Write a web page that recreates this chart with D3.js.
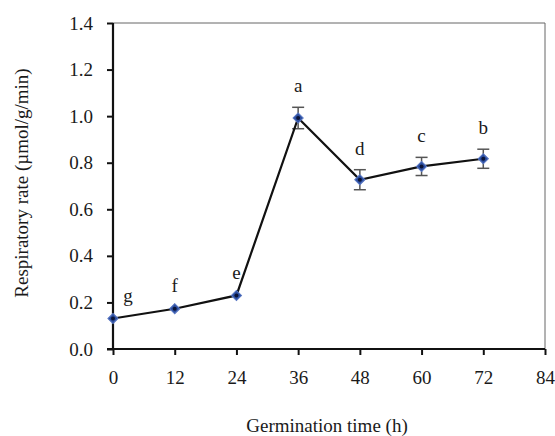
<!DOCTYPE html>
<html>
<head>
<meta charset="utf-8">
<script src="https://cdn.jsdelivr.net/npm/d3@7"></script>
<style>
  body { margin: 0; background: #fff; }
  svg { display: block; }
  .axis text { font-family: "Liberation Serif", "Times New Roman", serif; font-size: 19px; fill: #1a1a1a; }
  .title { font-family: "Liberation Serif", "Times New Roman", serif; font-size: 19px; fill: #1a1a1a; }
</style>
</head>
<body>
<div id="chart"></div>
<script>
// germination time (h), respiratory rate, standard error, significance letter
const hours = [0, 12, 24, 36, 48, 60, 72];
const rates = [0.131, 0.173, 0.230, 0.992, 0.727, 0.784, 0.817];
const errors = [0.008, 0.008, 0.008, 0.046, 0.043, 0.039, 0.041];
const letters = ['g', 'f', 'e', 'a', 'd', 'c', 'b'];
const xTicks = [0, 12, 24, 36, 48, 60, 72, 84];
const yTicks = [0, 0.2, 0.4, 0.6, 0.8, 1.0, 1.2, 1.4];

const width = 555;
const height = 436;
const margin = { top: 23, right: 10, bottom: 87, left: 113 };

const svg = d3.select('#chart')
  .append('svg')
  .attr('width', width)
  .attr('height', height);

const x = d3.scaleLinear()
  .domain([0, 84])
  .range([margin.left, width - margin.right]);

const y = d3.scaleLinear()
  .domain([0, 1.4])
  .range([height - margin.bottom, margin.top]);

const data = hours.map((h, i) => ({ h: h, v: rates[i], e: errors[i], l: letters[i] }));

// thin frame on top and right
svg.append('path')
  .attr('d', `M${x(0)},${y(1.4)}H${x(84)}V${y(0)}`)
  .attr('fill', 'none')
  .attr('stroke', '#666')
  .attr('stroke-width', 1);

// axes
const xAxis = svg.append('g')
  .attr('class', 'axis')
  .attr('transform', `translate(0, ${y(0)})`)
  .call(d3.axisBottom(x).tickValues(xTicks).tickSize(6).tickPadding(16).tickFormat(d3.format('d')));

const yAxis = svg.append('g')
  .attr('class', 'axis')
  .attr('transform', `translate(${x(0)}, 0)`)
  .call(d3.axisLeft(y).tickValues(yTicks).tickSize(6).tickPadding(14).tickFormat(d3.format('.1f')));

[xAxis, yAxis].forEach(g => {
  g.select('.domain').attr('stroke', '#111').attr('stroke-width', 2.2);
  g.selectAll('.tick line').attr('stroke', '#111').attr('stroke-width', 2);
});
yAxis.select('.domain').attr('d', `M0,${y(1.4)}V${y(0)}`);
xAxis.select('.domain').attr('d', `M${x(0) - 6},0H${x(84)}`);

// error bars
const bars = svg.append('g')
  .selectAll('g')
  .data(data.filter(d => d.e > 0.02))
  .enter()
  .append('g')
  .attr('stroke', '#555')
  .attr('stroke-width', 1.5);

bars.append('line')
  .attr('x1', d => x(d.h)).attr('x2', d => x(d.h))
  .attr('y1', d => y(d.v - d.e)).attr('y2', d => y(d.v + d.e));
bars.append('line')
  .attr('x1', d => x(d.h) - 6).attr('x2', d => x(d.h) + 6)
  .attr('y1', d => y(d.v + d.e)).attr('y2', d => y(d.v + d.e));
bars.append('line')
  .attr('x1', d => x(d.h) - 6).attr('x2', d => x(d.h) + 6)
  .attr('y1', d => y(d.v - d.e)).attr('y2', d => y(d.v - d.e));

// line
const line = d3.line()
  .x(d => x(d.h))
  .y(d => y(d.v));

svg.append('path')
  .datum(data)
  .attr('d', line)
  .attr('fill', 'none')
  .attr('stroke', '#111')
  .attr('stroke-width', 2.2);

// markers (square turned 45 degrees)
svg.append('g')
  .selectAll('path')
  .data(data)
  .enter()
  .append('path')
  .attr('d', d3.symbol().type(d3.symbolSquare).size(52))
  .attr('transform', d => `translate(${x(d.h)}, ${y(d.v)}) rotate(45)`)
  .attr('fill', '#2d4f9f')
  .attr('stroke', '#5a78c4')
  .attr('stroke-width', 1);

svg.append('g')
  .selectAll('circle')
  .data(data)
  .enter()
  .append('circle')
  .attr('cx', d => x(d.h))
  .attr('cy', d => y(d.v))
  .attr('r', 2)
  .attr('fill', '#0b1438');

// significance letters
svg.append('g')
  .selectAll('text')
  .data(data)
  .enter()
  .append('text')
  .attr('class', 'title')
  .attr('x', d => x(d.h) + (d.h === 0 ? 15 : 0))
  .attr('y', d => y(d.v + d.e) - 21)
  .attr('dy', '0.32em')
  .attr('text-anchor', 'middle')
  .text(d => d.l);

// axis titles
svg.append('text')
  .attr('class', 'title')
  .attr('x', 327)
  .attr('y', 432)
  .attr('text-anchor', 'middle')
  .text('Germination time (h)');

svg.append('text')
  .attr('class', 'title')
  .attr('transform', 'rotate(-90)')
  .attr('x', -183)
  .attr('y', 28)
  .attr('text-anchor', 'middle')
  .text('Respiratory rate (µmol/g/min)');
</script>
</body>
</html>
